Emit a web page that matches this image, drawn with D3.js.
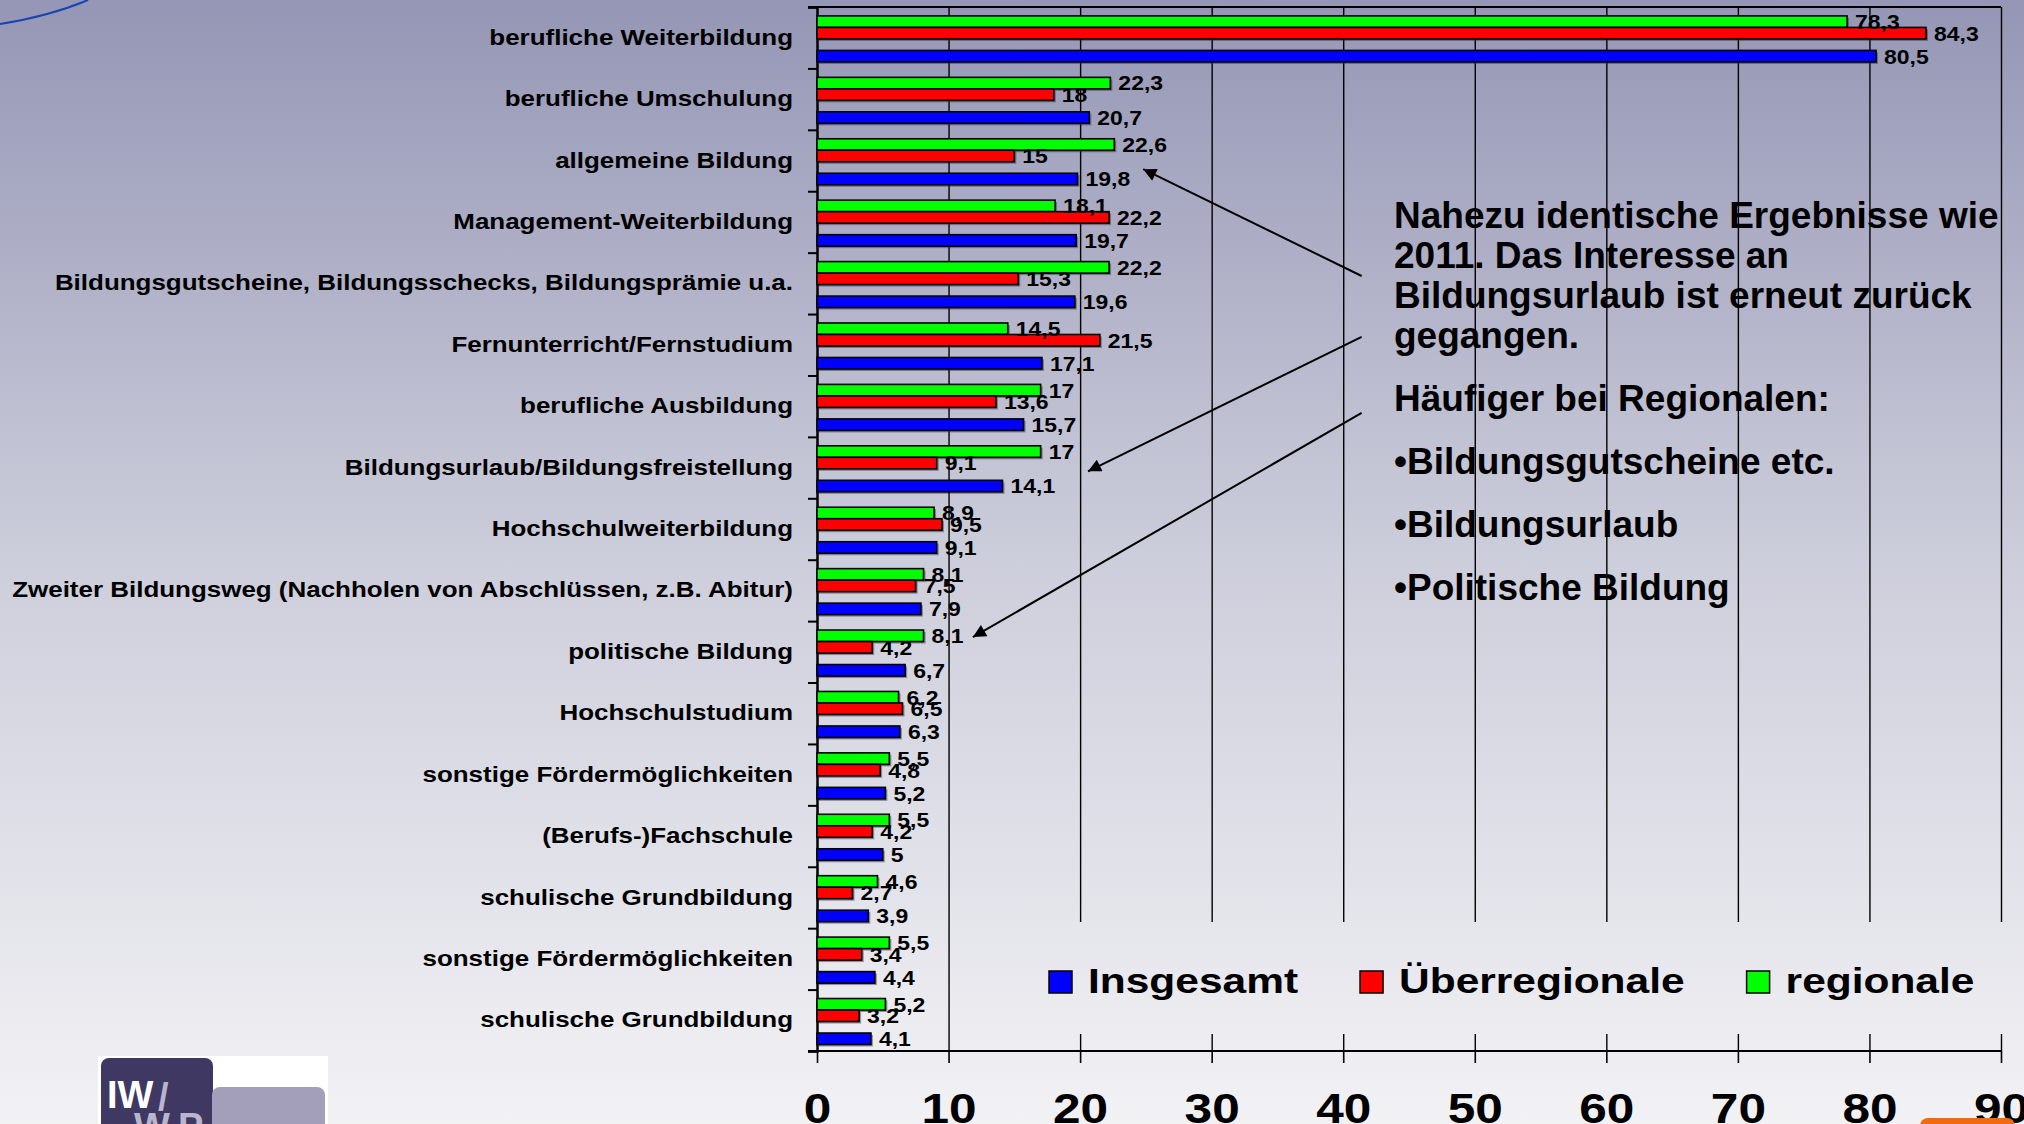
<!DOCTYPE html>
<html>
<head>
<meta charset="utf-8">
<script src="https://cdn.jsdelivr.net/npm/d3@7"></script>
<style>
  html, body { margin: 0; padding: 0; overflow: hidden; }
  svg { display: block; font-family: "Liberation Sans", Arial, sans-serif; font-weight: bold; }
</style>
</head>
<body>
<div id="chart"></div>
<script>
// categories, top to bottom
const categories = [
  "berufliche Weiterbildung",
  "berufliche Umschulung",
  "allgemeine Bildung",
  "Management-Weiterbildung",
  "Bildungsgutscheine, Bildungsschecks, Bildungsprämie u.a.",
  "Fernunterricht/Fernstudium",
  "berufliche Ausbildung",
  "Bildungsurlaub/Bildungsfreistellung",
  "Hochschulweiterbildung",
  "Zweiter Bildungsweg (Nachholen von Abschlüssen, z.B. Abitur)",
  "politische Bildung",
  "Hochschulstudium",
  "sonstige Fördermöglichkeiten",
  "(Berufs-)Fachschule",
  "schulische Grundbildung",
  "sonstige Fördermöglichkeiten",
  "schulische Grundbildung"
];
const insgesamt      = [80.5, 20.7, 19.8, 19.7, 19.6, 17.1, 15.7, 14.1, 9.1, 7.9, 6.7, 6.3, 5.2, 5, 3.9, 4.4, 4.1];
const ueberregionale = [84.3, 18, 15, 22.2, 15.3, 21.5, 13.6, 9.1, 9.5, 7.5, 4.2, 6.5, 4.8, 4.2, 2.7, 3.4, 3.2];
const regionale      = [78.3, 22.3, 22.6, 18.1, 22.2, 14.5, 17, 17, 8.9, 8.1, 8.1, 6.2, 5.5, 5.5, 4.6, 5.5, 5.2];
const xTicks = [0, 10, 20, 30, 40, 50, 60, 70, 80, 90];

const seriesNames  = ["Insgesamt", "Überregionale", "regionale"];
const seriesColors = ["#0000ff", "#ff0000", "#00ff00"];
const seriesValues = [insgesamt, ueberregionale, regionale];

const noteLines = [
  "Nahezu identische Ergebnisse wie",
  "2011. Das Interesse an",
  "Bildungsurlaub ist erneut zurück",
  "gegangen."
];
const noteBullets = ["Häufiger bei Regionalen:", "•Bildungsgutscheine etc.", "•Bildungsurlaub", "•Politische Bildung"];

const W = 2024, H = 1124;
const plot = {left: 817, right: 2001, top: 7, bottom: 1051};
const fmt = d => String(d).replace(".", ",");

const svg = d3.select("#chart").append("svg")
  .attr("width", W).attr("height", H);

// background gradient
const defs = svg.append("defs");
const grad = defs.append("linearGradient").attr("id", "bg")
  .attr("gradientUnits", "userSpaceOnUse")
  .attr("x1", 0).attr("y1", 0).attr("x2", 0).attr("y2", H);
grad.append("stop").attr("offset", "0%").attr("stop-color", "#9596b5");
grad.append("stop").attr("offset", "50%").attr("stop-color", "#cdcedb");
grad.append("stop").attr("offset", "100%").attr("stop-color", "#f2f2f5");

defs.append("marker").attr("id", "arrow")
  .attr("viewBox", "0 0 10 10").attr("refX", 10).attr("refY", 5)
  .attr("markerUnits", "userSpaceOnUse")
  .attr("markerWidth", 17).attr("markerHeight", 13)
  .attr("orient", "auto")
  .append("path").attr("d", "M0,0L10,5L0,10Z").attr("fill", "#000");

svg.append("rect").attr("width", W).attr("height", H).attr("fill", "url(#bg)");

// blue arc in the top left corner
svg.append("path").attr("d", "M0,24 Q50,16 88,0")
  .attr("fill", "none").attr("stroke", "#1846b0").attr("stroke-width", 2);

// scales
const x = d3.scaleLinear().domain([0, 90]).range([plot.left, plot.right]);
const y0 = d3.scaleBand().domain(d3.range(categories.length))
  .range([plot.top, plot.bottom]).padding(0);
const slots = ["regionale", "Überregionale", "_", "Insgesamt"];
const y1 = d3.scaleBand().domain(slots).range([0, y0.bandwidth()])
  .paddingInner(0).paddingOuter(0.67).align(0.58);
const yEdge = d3.scaleLinear().domain([0, categories.length]).range([plot.top, plot.bottom]);

// gridlines (90 acts as right border)
svg.append("g")
  .attr("transform", `translate(0,${plot.bottom})`)
  .call(d3.axisBottom(x).tickValues(xTicks.slice(1)).tickSize(-(plot.bottom - plot.top)).tickFormat(""))
  .call(g => g.select(".domain").remove())
  .call(g => g.selectAll("line").attr("stroke", "#000").attr("stroke-width", 1.4));

// top border
svg.append("line")
  .attr("x1", plot.left - 9).attr("x2", plot.right)
  .attr("y1", plot.top).attr("y2", plot.top)
  .attr("stroke", "#000").attr("stroke-width", 2);

// legend box hides the grid behind it
svg.append("rect")
  .attr("x", 1035).attr("y", 922).attr("width", 980).attr("height", 112)
  .attr("fill", "url(#bg)");

// legend
const legend = svg.append("g");
let lx = 1049;
seriesNames.forEach((name, i) => {
  legend.append("rect")
    .attr("x", lx).attr("y", 971).attr("width", 23).attr("height", 22)
    .attr("fill", seriesColors[i]).attr("stroke", "#000").attr("stroke-width", 1.5);
  const t = legend.append("text")
    .attr("transform", `translate(${lx + 39},993) scale(1.18,1)`)
    .attr("font-size", 36).attr("fill", "#000")
    .text(name);
  lx += 39 + t.node().getComputedTextLength() * 1.18 + 62;
});

// x axis
svg.append("g")
  .attr("transform", `translate(0,${plot.bottom})`)
  .call(d3.axisBottom(x).tickValues(xTicks).tickSize(12).tickPadding(30))
  .call(g => g.select(".domain").attr("d", `M${plot.left - 9},0H${plot.right}`).attr("stroke-width", 2))
  .call(g => g.selectAll(".tick line").attr("stroke-width", 1.6))
  .call(g => g.selectAll(".tick text")
    .attr("font-size", 42).attr("font-family", "Liberation Sans, Arial, sans-serif")
    .attr("font-weight", "bold").attr("fill", "#000")
    .attr("transform", "scale(1.18,1)"));

// y axis: boundary ticks
svg.append("g")
  .attr("transform", `translate(${plot.left},0)`)
  .call(d3.axisLeft(yEdge).tickValues(d3.range(categories.length + 1)).tickSize(9).tickFormat(""))
  .call(g => g.select(".domain").attr("stroke-width", 2.5))
  .call(g => g.selectAll(".tick line").attr("stroke-width", 2));

// y axis: category labels
svg.append("g")
  .attr("transform", `translate(${plot.left},0)`)
  .call(d3.axisLeft(y0).tickSize(0).tickPadding(24).tickFormat(i => categories[i]))
  .call(g => g.select(".domain").remove())
  .call(g => g.selectAll(".tick text")
    .attr("x", null)
    .attr("transform", "translate(-24,0) scale(1.18,1)")
    .attr("font-size", 22).attr("font-family", "Liberation Sans, Arial, sans-serif")
    .attr("font-weight", "bold").attr("fill", "#000"));

// bars
const rows = [];
const drawOrder = [2, 1, 0];
categories.forEach((c, i) => {
  drawOrder.forEach(s => rows.push({i, s, v: seriesValues[s][i]}));
});
const barY = d => y0(d.i) + y1(seriesNames[d.s]);
const bars = svg.append("g");
bars.selectAll("rect.shadow").data(rows).join("rect")
  .attr("class", "shadow")
  .attr("x", x(0) + 2).attr("y", d => barY(d) + 2)
  .attr("width", d => x(d.v) - x(0)).attr("height", y1.bandwidth())
  .attr("fill", "rgba(40,40,60,0.45)");
bars.selectAll("rect.bar").data(rows).join("rect")
  .attr("class", "bar")
  .attr("x", x(0)).attr("y", d => barY(d))
  .attr("width", d => x(d.v) - x(0)).attr("height", y1.bandwidth())
  .attr("fill", d => seriesColors[d.s])
  .attr("stroke", "#000").attr("stroke-width", 1.6);

// value labels
svg.append("g").selectAll("text").data(rows).join("text")
  .attr("transform", d => `translate(${x(d.v) + 8},${barY(d) + y1.bandwidth() / 2}) scale(1.12,1)`)
  .attr("dy", "0.36em")
  .attr("font-size", 20.5).attr("fill", "#000")
  .text(d => fmt(d.v));

// annotation text
const note = svg.append("g").attr("font-size", 37).attr("fill", "#000");
noteLines.forEach((t, k) => {
  note.append("text").attr("x", 1394).attr("y", 228 + k * 40).text(t);
});
noteBullets.forEach((t, k) => {
  note.append("text").attr("x", 1394).attr("y", 411 + k * 63).text(t);
});

// annotation arrows, in data coordinates (value, category position)
const arrows = [
  {from: [41.4, 4.38], to: [24.8, 2.64]},
  {from: [41.4, 5.37], to: [20.6, 7.56]},
  {from: [41.4, 6.61], to: [11.85, 10.26]}
];
svg.append("g").selectAll("line").data(arrows).join("line")
  .attr("x1", d => x(d.from[0])).attr("y1", d => yEdge(d.from[1]))
  .attr("x2", d => x(d.to[0])).attr("y2", d => yEdge(d.to[1]))
  .attr("stroke", "#000").attr("stroke-width", 2)
  .attr("marker-end", "url(#arrow)");

// logo bottom left
const logo = svg.append("g");
logo.append("rect").attr("x", 98).attr("y", 1056).attr("width", 230).attr("height", 80).attr("fill", "#fff");
logo.append("rect").attr("x", 101).attr("y", 1058).attr("width", 112).attr("height", 80).attr("rx", 8).attr("fill", "#3f3862");
logo.append("rect").attr("x", 212).attr("y", 1087).attr("width", 113).attr("height", 50).attr("rx", 8).attr("fill", "#a39fbb");
logo.append("text").attr("x", 107).attr("y", 1108).attr("font-size", 38).attr("fill", "#fff").text("IW");
logo.append("text").attr("x", 158).attr("y", 1110).attr("font-size", 38).attr("fill", "#b9b5cc").text("/");
logo.append("text").attr("x", 134).attr("y", 1140).attr("font-size", 38).attr("fill", "#b9b5cc").text("W");
logo.append("text").attr("x", 178).attr("y", 1140).attr("font-size", 38).attr("fill", "#b9b5cc").text("P");

// orange tab bottom right
svg.append("rect").attr("x", 1920).attr("y", 1118).attr("width", 95).attr("height", 20)
  .attr("rx", 8).attr("fill", "#f26a10");
</script>
</body>
</html>
